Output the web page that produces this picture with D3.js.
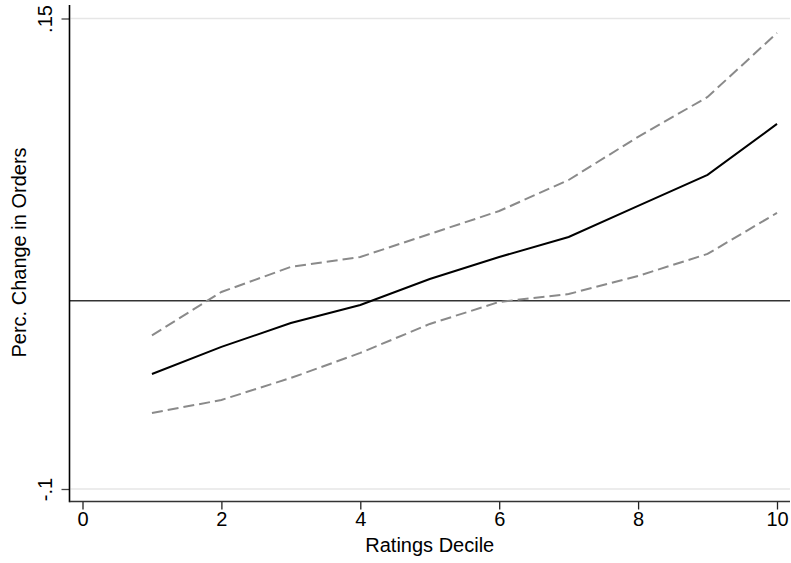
<!DOCTYPE html>
<html>
<head>
<meta charset="utf-8">
<script src="https://cdn.jsdelivr.net/npm/d3@7"></script>
<style>
html,body{margin:0;padding:0;background:#fff;}
svg{display:block;font-family:"Liberation Sans",Arial,sans-serif;}
</style>
</head>
<body>
<svg id="chart" width="791" height="563"></svg>
<script>
// ---- data ----
const deciles = [1, 2, 3, 4, 5, 6, 7, 8, 9, 10];
const estimate = [-0.0389, -0.0245, -0.0118, -0.0022, 0.0116, 0.0233, 0.0339, 0.0504, 0.0669, 0.0940];
const upperCI  = [-0.0184, 0.0047, 0.0180, 0.0233, 0.0355, 0.0477, 0.0642, 0.0871, 0.1083, 0.1423];
const lowerCI  = [-0.0596, -0.0527, -0.0410, -0.0277, -0.0123, -0.0006, 0.0036, 0.0132, 0.0249, 0.0467];
const xTicks = [0, 2, 4, 6, 8, 10];
const yTicks = [-0.1, 0.15];
const yTickLabels = ["-.1", ".15"];
const xTitle = "Ratings Decile";
const yTitle = "Perc. Change in Orders";

// ---- layout ----
const svg = d3.select("#chart");
const x = d3.scaleLinear().domain([0, 10]).range([82.5, 777]);
const y = d3.scaleLinear().domain([-0.1, 0.15]).range([489, 18.5]);
const axisLeftX = 69.5, axisBottomY = 501.5, plotRight = 790, plotTop = 5;

// gridlines at y ticks
svg.append("g").selectAll("line").data(yTicks).join("line")
  .attr("x1", axisLeftX + 1).attr("x2", plotRight)
  .attr("y1", d => y(d)).attr("y2", d => y(d))
  .attr("stroke", "#e6e6e6").attr("stroke-width", 1.5);

// zero reference line
svg.append("line")
  .attr("x1", axisLeftX).attr("x2", plotRight)
  .attr("y1", y(0)).attr("y2", y(0))
  .attr("stroke", "#333").attr("stroke-width", 1.6);

const line = d3.line().x((d, i) => x(deciles[i])).y(d => y(d));

// CI dashed lines
[upperCI, lowerCI].forEach(s => {
  svg.append("path").datum(s).attr("d", line)
    .attr("fill", "none").attr("stroke", "#8a8a8a")
    .attr("stroke-width", 2).attr("stroke-dasharray", "11,5");
});
// estimate solid line
svg.append("path").datum(estimate).attr("d", line)
  .attr("fill", "none").attr("stroke", "#000").attr("stroke-width", 2);

// x axis
const xAxis = svg.append("g").attr("transform", `translate(0,${axisBottomY})`)
  .call(d3.axisBottom(x).tickValues(xTicks).tickFormat(d3.format("d")).tickSize(8).tickSizeOuter(0).tickPadding(2));
xAxis.select(".domain").remove();
xAxis.selectAll(".tick line").attr("stroke", "#222").attr("stroke-width", 1.3);
xAxis.selectAll(".tick text").attr("font-size", 20).attr("fill", "#000")
  .attr("font-family", "Liberation Sans, Arial, sans-serif");

// y axis
const yAxis = svg.append("g").attr("transform", `translate(${axisLeftX},0)`)
  .call(d3.axisLeft(y).tickValues(yTicks).tickFormat((d, i) => yTickLabels[i]).tickSize(8).tickSizeOuter(0));
yAxis.select(".domain").remove();
yAxis.selectAll(".tick line").attr("stroke", "#444").attr("stroke-width", 1.3);
yAxis.selectAll(".tick text")
  .attr("font-size", 20).attr("fill", "#000")
  .attr("font-family", "Liberation Sans, Arial, sans-serif")
  .attr("text-anchor", "middle").attr("dy", null)
  .attr("transform", "translate(-18,0) rotate(-90)")
  .attr("x", 0).attr("y", 0);

// axis lines
svg.append("line").attr("x1", axisLeftX).attr("x2", axisLeftX)
  .attr("y1", plotTop).attr("y2", axisBottomY + 0.8)
  .attr("stroke", "#000").attr("stroke-width", 1.6);
svg.append("line").attr("x1", axisLeftX).attr("x2", plotRight)
  .attr("y1", axisBottomY).attr("y2", axisBottomY)
  .attr("stroke", "#333").attr("stroke-width", 1.6);

// titles
svg.append("text").attr("x", (axisLeftX + plotRight) / 2).attr("y", 552)
  .attr("text-anchor", "middle").attr("font-size", 20).attr("fill", "#000")
  .text(xTitle);
svg.append("text").attr("transform", "translate(26,252.5) rotate(-90)")
  .attr("text-anchor", "middle").attr("font-size", 20).attr("fill", "#000")
  .text(yTitle);
</script>
</body>
</html>
